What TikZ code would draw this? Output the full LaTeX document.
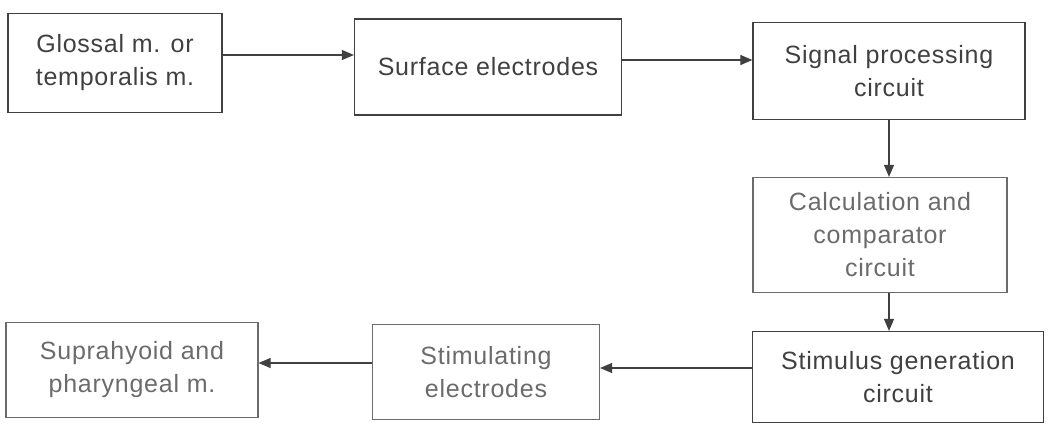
\documentclass[tikz,border=0pt]{standalone}
\usepackage{fontspec}
\setmainfont{Liberation Sans}[LetterSpace=3]
\usetikzlibrary{arrows.meta}

\definecolor{scanDark}{gray}{.25}
\definecolor{scanLight}{gray}{.42}

\tikzset{
  stagebox/.style={draw=scanDark,rectangle,line width=1.2pt,inner sep=0pt,align=center,
    text=scanDark,font=\fontsize{25}{33}\selectfont},
  fadedbox/.style={stagebox,draw=scanLight,text=scanLight},
  flow/.style={draw=scanDark,line width=1.1pt,-{Triangle[length=12pt,width=10pt]}}
}

\begin{document}
\begin{tikzpicture}[x=1pt,y=-1pt]%
	  \useasboundingbox (0,0) rectangle (1051,434);
          \node[stagebox,minimum width=214pt,minimum height=99pt] (glossal) at (115,63) {Glossal m. or\\temporalis m.};
          \node[stagebox,minimum width=267pt,minimum height=96pt] (surface) at (488,67) {Surface electrodes};
          \node[stagebox,minimum width=272pt,minimum height=97pt] (signal) at (889,71) {Signal processing\\circuit};
          \node[fadedbox,minimum width=254pt,minimum height=115pt] (calc) at (880,235) {Calculation and\\comparator\\circuit};
          \node[stagebox,minimum width=291pt,minimum height=91pt] (stimgen) at (898,377) {Stimulus generation\\circuit};
          \node[fadedbox,minimum width=227pt,minimum height=95pt] (stimel) at (486,372) {Stimulating\\electrodes};
          \node[fadedbox,minimum width=252pt,minimum height=95pt] (supra) at (132,370) {Suprahyoid and\\pharyngeal m.};

	  \draw[flow] ([yshift=8pt]glossal.east) -- ([yshift=8pt]glossal.east -| surface.west);
	  \draw[flow] ([yshift=7pt]surface.east) -- ([yshift=7pt]surface.east -| signal.west);
	  \draw[flow] (signal.south) -- (signal.south |- calc.north);
	  \draw[flow] (calc.south -| signal.south) -- (stimgen.north -| signal.south);
	  \draw[flow] ([yshift=9pt]stimgen.west) -- ([yshift=9pt]stimgen.west -| stimel.east);
	  \draw[flow] ([yshift=9pt]stimel.west) -- ([yshift=9pt]stimel.west -| supra.east);
	\end{tikzpicture}
\end{document}
